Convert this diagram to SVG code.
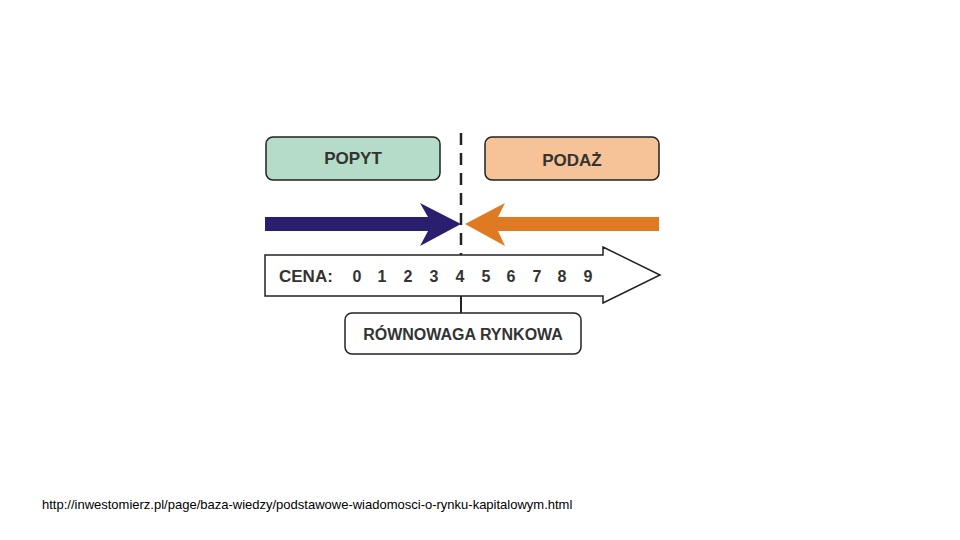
<svg xmlns="http://www.w3.org/2000/svg" width="960" height="540" viewBox="0 0 960 540">
<style>
.t{font-family:"Liberation Sans",Arial,sans-serif;font-weight:bold;fill:#333}
.box{stroke:#222;stroke-width:1.5}
.n{font-family:"Liberation Sans",Arial,sans-serif;font-weight:bold;font-size:16px;fill:#333;text-anchor:middle}
</style>
<rect width="960" height="540" fill="#fff"/>
<g id="connectors">
<line x1="461" y1="133" x2="461" y2="255" stroke="#222" stroke-width="2.5" stroke-dasharray="12,8"/>
<line x1="461" y1="296" x2="461" y2="313" stroke="#222" stroke-width="2"/>
<polygon points="265,217 428,217 420,203 461,224 420,246 428,231 265,231" fill="#2a1f6e"/>
<polygon points="659,217 498,217 505,203 465,224 505,246 498,231 659,231" fill="#e07a22"/>
</g>
<g id="popyt"><rect class="box" x="266" y="137" width="174" height="43" rx="7" fill="#b5dcc8"/><text class="t" x="353" y="164" font-size="17" text-anchor="middle">POPYT</text></g>
<g id="podaz"><rect class="box" x="485" y="137" width="174" height="43" rx="7" fill="#f5c397"/><text class="t" x="572" y="166" font-size="17" text-anchor="middle">PODAŻ</text></g>
<g id="cena">
<polygon class="box" points="265,255 603,255 603,247 660,275 603,303 603,296 265,296" fill="#fff"/>
<text class="t" x="279" y="282" font-size="17">CENA:</text>
<text class="n" x="357" y="282">0</text><text class="n" x="382" y="282">1</text><text class="n" x="408" y="282">2</text><text class="n" x="434" y="282">3</text><text class="n" x="460" y="282">4</text><text class="n" x="486" y="282">5</text><text class="n" x="511" y="282">6</text><text class="n" x="537" y="282">7</text><text class="n" x="562" y="282">8</text><text class="n" x="588" y="282">9</text>
</g>
<g id="rownowaga"><rect class="box" x="345" y="313" width="236" height="41" rx="7" fill="#fff"/><text class="t" x="463" y="340" font-size="16" text-anchor="middle">RÓWNOWAGA RYNKOWA</text></g>
<text x="42" y="509" font-family="Liberation Sans,Arial,sans-serif" font-size="13" fill="#000">http://inwestomierz.pl/page/baza-wiedzy/podstawowe-wiadomosci-o-rynku-kapitalowym.html</text>
</svg>
